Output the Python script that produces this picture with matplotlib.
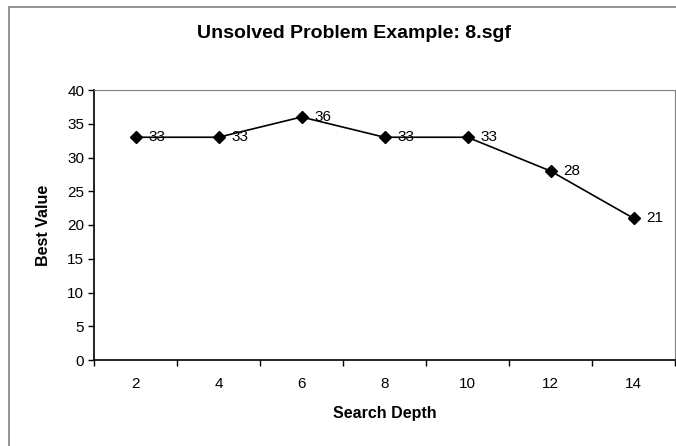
import matplotlib.pyplot as plt
from matplotlib.patches import Rectangle

# data
depths = ["2", "4", "6", "8", "10", "12", "14"]
best_values = [33, 33, 36, 33, 33, 28, 21]
y_ticks = [0, 5, 10, 15, 20, 25, 30, 35, 40]

plt.rcParams["font.family"] = ["Liberation Sans", "DejaVu Sans"]

W, H = 676, 446
fig = plt.figure(figsize=(W / 100, H / 100), dpi=100)

# outer chart border (Excel style)
fig.patches.append(Rectangle((9 / W, -0.1), 1.2, 1 - 7 / H + 0.1, transform=fig.transFigure,
                             fill=False, edgecolor="#808080", linewidth=1.2))

ax = fig.add_axes([94 / W, (H - 360) / H, 581 / W, 270 / H])

x = list(range(len(depths)))
ax.plot(x, best_values, color="black", linewidth=1.2, marker="D", markersize=6.5,
        markerfacecolor="black", markeredgecolor="black")

for xi, v in zip(x, best_values):
    ax.annotate(str(v), (xi, v), xytext=(9, 0), textcoords="offset points",
                ha="left", va="center", fontsize=11)

ax.set_xlim(-0.5, len(depths) - 0.5)
ax.set_ylim(0, 40)
ax.set_yticks(y_ticks)
ax.set_yticklabels([str(t) for t in y_ticks], fontsize=11)

# ticks between categories, labels under categories
ax.set_xticks([i - 0.5 for i in range(len(depths) + 1)])
ax.set_xticklabels([])
ax.set_xticks(x, minor=True)
ax.set_xticklabels(depths, minor=True, fontsize=11)
ax.tick_params(axis="x", which="major", direction="out", length=4, width=1)
ax.tick_params(axis="x", which="minor", length=0, pad=12)
ax.tick_params(axis="y", direction="out", length=4, width=1, pad=3)

for side in ["top", "right"]:
    ax.spines[side].set_color("#808080")
for side in ["left", "bottom"]:
    ax.spines[side].set_color("black")
    ax.spines[side].set_linewidth(1.2)

ax.set_xlabel("Search Depth", fontsize=11.5, fontweight="bold", labelpad=11)
ax.set_ylabel("Best Value", fontsize=11.5, fontweight="bold", labelpad=12)

fig.text(354 / W, 1 - 33 / H, "Unsolved Problem Example: 8.sgf", ha="center", va="center",
         fontsize=14, fontweight="bold")

fig.savefig("out.png", dpi=100)
